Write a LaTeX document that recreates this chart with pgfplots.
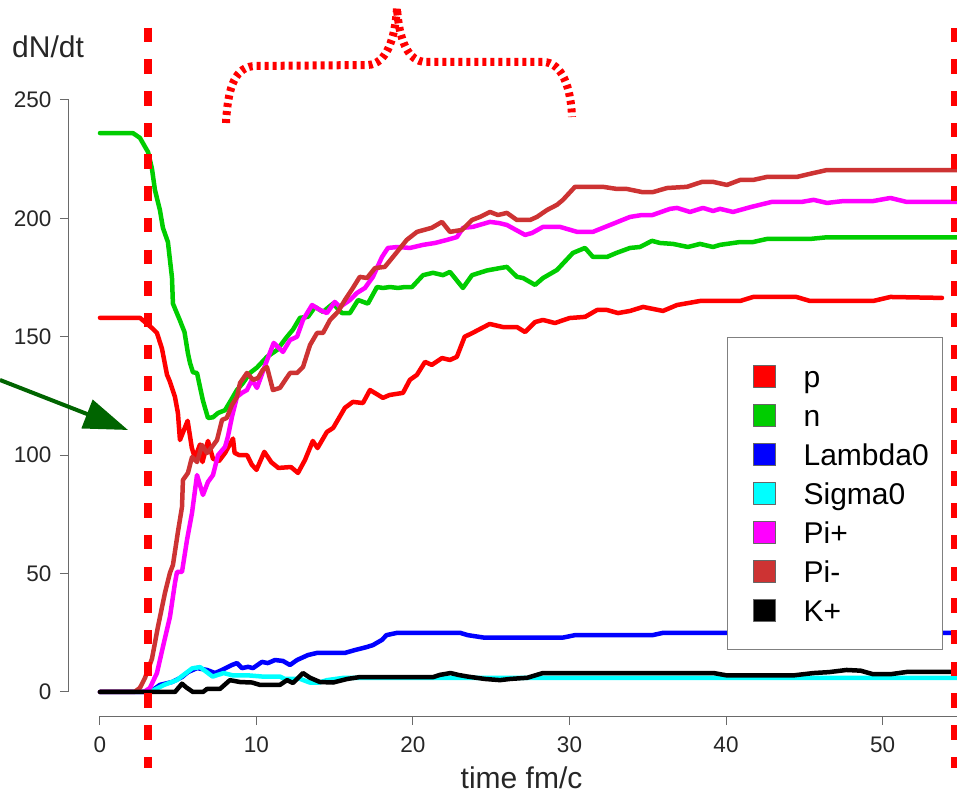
\documentclass[border=0pt]{standalone}
\usepackage{pgfplots}
\pgfplotsset{compat=1.18}
\usepackage{fontspec}
\setmainfont{Liberation Sans}
\usetikzlibrary{arrows.meta}
\definecolor{pRed}{HTML}{FF0000}
\definecolor{nGreen}{HTML}{00CD00}
\definecolor{lBlue}{HTML}{0000FF}
\definecolor{sCyan}{HTML}{00FFFF}
\definecolor{piP}{HTML}{FF00FF}
\definecolor{piM}{HTML}{CD3333}
\definecolor{arrowGreen}{HTML}{006400}
\definecolor{axGray}{HTML}{6A6A6A}
\begin{document}
\begin{tikzpicture}
\begin{axis}[
  at={(0,0)}, anchor=south west, scale only axis,
  width=888pt, height=716pt,
  xmin=-1.98, xmax=54.76, ymin=-10.14, ymax=292.2,
  clip=false,
  axis x line*=bottom, axis y line*=left,
  axis line style={draw=none},
  tick align=outside, major tick length=9pt,
  tick style={axGray, line width=1pt},
  xtick={0,10,20,30,40,50}, ytick={0,50,100,150,200,250},
  /pgf/number format/assume math mode=true,
  ticklabel style={font=\fontsize{22.5}{26}\selectfont, text=black!85},
  xticklabel style={yshift=-8pt},
  yticklabel style={xshift=-5pt},
  xlabel={time fm/c},
  xlabel style={at={(axis description cs:0.5096,-0.1006)}, anchor=base, font=\fontsize{30}{36}\selectfont, inner sep=0pt, text=black!85},
  ylabel={dN/dt},
  ylabel style={at={(axis description cs:-0.0642,0.919)}, anchor=base west, rotate=-90, font=\fontsize{30}{36}\selectfont, inner sep=0pt, text=black!85},
  every axis plot/.append style={line width=4.5pt, line join=round, line cap=round},
  legend cell align=left,
  legend image code/.code={%
    \path[draw=none, fill=none] (0pt,0pt) -- (76pt,0pt);
    \filldraw[#1, draw=black!60, line width=1pt, solid] (26pt,-11pt) rectangle (48pt,11pt);},
  legend style={at={(0.741,0.5293)}, anchor=north west, draw=black!50, line width=1.2pt,
    fill=white, inner xsep=0pt, inner ysep=19.5pt, row sep=0pt,
    font=\fontsize{30}{36}\selectfont,
    nodes={inner sep=0pt, text height=30pt, text depth=9pt}},
]
% p
\addplot[color=pRed] coordinates {
(0,158) (2.55,158) (3.32,153.7) (3.64,151.6) (3.96,145) (4.28,134) (4.47,131) (4.79,124.6)
(4.98,117.8) (5.11,106.4) (5.6,114.5) (5.87,103) (6.07,98.8) (6.39,104.5) (6.55,97.1)
(6.9,106) (7.22,98.5) (7.6,97.5) (8.0,101) (8.5,107) (8.6,101) (8.9,100) (9.4,100)
(9.7,96) (10.0,93.8) (10.5,101.4) (10.95,97) (11.4,94.6) (12.2,95) (12.65,92.5)
(13.1,98) (13.6,106) (13.9,103) (14.5,109.8) (14.9,111.5) (15.65,120) (16.16,122.5)
(16.8,122) (17.25,127.5) (18.08,124.2) (18.5,125.4) (19.36,126.3) (19.8,131.8)
(20.25,133.9) (20.77,139.4) (21.2,138.1) (21.85,141) (22.36,140.2) (22.8,141.5)
(23.3,150) (23.8,151.6) (24.9,155.4) (25.75,154.1) (26.64,154.1) (27.16,152)
(27.8,156.2) (28.3,157.1) (29.07,155.8) (30.0,157.9) (31.0,158.4) (31.76,161.3)
(32.4,161.3) (33.1,160) (33.87,160.9) (34.7,162.6) (35.97,160.9) (36.87,163.4)
(38.34,165.1) (40.9,165.1) (41.73,166.8) (44.5,166.8) (45.37,165.1) (49.4,165.1)
(50.5,166.8) (53.8,166.4)
};
\addlegendentry{p}
% n
\addplot[color=nGreen] coordinates {
(0,236) (2.1,236) (2.55,234) (3.07,228) (3.32,221) (3.51,212) (3.83,203.5) (4.02,196)
(4.34,190) (4.6,175) (4.66,164) (5.1,157) (5.4,152) (5.62,143) (5.75,139) (5.94,135)
(6.2,134.7) (6.39,128.8) (6.58,123) (6.9,115.7) (7.22,116) (7.54,117.8) (7.99,119)
(8.31,122.5) (8.75,127.5) (9.14,130.5) (9.58,134.7) (10.03,137) (10.67,141.5)
(11.31,144.4) (11.95,150) (12.33,153) (12.78,158) (13.29,158.4) (13.74,162.6)
(14.25,160.5) (14.89,164) (15.46,160) (15.97,160) (16.49,165.5) (17.12,164)
(17.7,171) (18.08,170.6) (18.53,171) (19.04,170.6) (19.49,171) (19.94,171)
(20.64,176) (21.28,177) (21.92,176) (22.36,177.4) (23.19,170.6) (23.77,176)
(24.73,178) (25.56,179) (26.0,179.5) (26.64,175.3) (27.03,174.8) (27.8,171.9)
(28.31,174.8) (29.2,178.2) (30.22,185.4) (30.99,187.5) (31.5,183.7) (32.4,183.7)
(33.0,185.4) (33.87,187.5) (34.5,187.9) (35.27,190.5) (35.78,189.6) (36.61,189.2)
(37.57,187.9) (38.34,189.2) (39.17,187.9) (39.62,188.8) (40.9,190) (41.73,190)
(42.62,191.3) (45.37,191.3) (46.45,192) (54.76,192)
};
\addlegendentry{n}
% Lambda0
\addplot[color=lBlue] coordinates {
(0,0) (3.2,0) (3.83,3) (4.6,4.2) (5.24,6.3) (5.62,8.4) (6.2,10.1) (6.84,9.3) (7.35,8)
(7.8,9.3) (8.43,11.4) (8.75,12.2) (9.07,10.1) (9.46,10.6) (9.78,10.1) (10.35,12.7)
(10.73,12.2) (11.18,13.5) (11.69,13.1) (12.14,11.4) (12.59,13.5) (13.29,15.6)
(13.87,16.5) (15.65,16.5) (16.29,17.7) (17.06,19) (17.44,19.8) (18.02,22) (18.3,24)
(19,25) (23,25) (23.5,24) (24.5,23) (29.6,23) (30.35,24) (35.3,24) (36,25) (54.76,25)
};
\addlegendentry{Lambda0\hspace*{14pt}}
% Sigma0
\addplot[color=sCyan] coordinates {
(0,0) (3.2,0) (4.1,3) (4.9,5) (5.5,8) (5.9,10) (6.4,10.5) (6.8,8.5) (7.2,6.5) (7.9,8)
(8.5,7) (9.5,7) (10.4,6.5) (11.5,6.5) (11.8,5.5) (12.8,5.5) (13.4,4) (14.0,4) (14.5,5)
(15.6,6) (54.76,6)
};
\addlegendentry{Sigma0}
% Pi+
\addplot[color=piP] coordinates {
(0,0) (2.8,0) (3.19,1.7) (3.64,8) (4.02,19) (4.47,31.7) (4.79,46) (4.92,50.7) (5.24,50.7)
(5.56,64.2) (5.88,75.6) (6.2,91.6) (6.58,83.2) (6.9,88.7) (7.22,91.6) (7.54,100)
(7.99,103.5) (8.17,107.7) (8.43,116.1) (8.75,124.6) (9.07,126.3) (9.39,127.5)
(9.71,131.8) (10.03,128.4) (10.61,139) (11.1,147.4) (11.69,143.6) (12.14,148.6)
(12.59,150) (12.97,157.1) (13.55,163.4) (14.06,161.3) (14.5,160) (15.0,164.7)
(15.34,162.6) (15.97,165.5) (16.42,168.5) (16.93,170.6) (17.44,175.3) (18.02,183.7)
(18.4,187.5) (19.04,187.9) (19.81,187.5) (20.64,188.8) (21.41,189.6) (22.17,190.9)
(22.81,192.1) (23.2,196) (23.83,196.4) (24.92,198.5) (25.5,198) (26.0,197.2)
(27.16,193) (27.6,193.8) (28.31,196.4) (29.39,196.4) (30.48,194.3) (31.5,194.3)
(32.59,197.2) (33.87,200.6) (34.63,201.4) (35.3,201.4) (36.42,204) (36.87,204.4)
(37.7,202.7) (38.53,204.4) (39.17,203.1) (39.62,204) (40.45,202.7) (41.6,204.8)
(42.9,206.9) (44.8,206.9) (45.6,207.8) (46.45,206.5) (47.5,207.3) (49.4,207.3)
(50.5,208.6) (51.5,207) (54.76,207)
};
\addlegendentry{Pi+}
% Pi-
\addplot[color=piM] coordinates {
(0,0) (2.2,0) (2.55,1.7) (2.88,6) (3.32,14) (3.7,27.4) (4.15,41.8) (4.47,50.3)
(4.66,53.6) (4.98,67.6) (5.24,78.1) (5.3,89.5) (5.62,92.5) (5.88,99.2) (6.2,97.1)
(6.52,104.3) (6.84,100.9) (7.16,103.5) (7.48,106.4) (7.8,114.9) (8.1,115.7)
(8.43,121.2) (8.75,124.6) (8.95,130.5) (9.39,134.7) (9.78,131.8) (10.1,132.6)
(10.4,136) (10.67,137.2) (11.05,127.5) (11.5,128.4) (12.14,134.7) (12.59,134.7)
(12.97,137.2) (13.42,146.5) (13.87,151.6) (14.25,151.6) (14.7,157.1) (15.2,160.5)
(15.65,165.5) (16.16,170.6) (16.6,175.3) (17.06,174.8) (17.57,179) (18.2,179.5)
(18.98,185.8) (19.6,190.9) (20.26,194.3) (21.2,196) (21.85,198.5) (22.36,194.3)
(23.13,195.1) (23.77,199.3) (24.28,200.6) (24.92,202.7) (25.43,201.4) (26.0,202.3)
(26.64,199.3) (27.48,199.3) (27.92,200.6) (28.56,203.5) (29.2,205.7) (29.58,207.8)
(30.35,213.3) (32.14,213.3) (33.04,212.4) (33.67,212.4) (34.63,211.1) (35.34,211.1)
(36.23,212.8) (37.5,213.3) (38.47,215.4) (39.17,215.4) (40.06,214.1) (40.9,216.2)
(41.73,216.2) (42.62,217.5) (44.54,217.5) (45.37,218.8) (46.45,220.4) (54.76,220.4)
};
\addlegendentry{Pi-}
% K+
\addplot[color=black] coordinates {
(0,0) (4.79,0) (5.24,3.5) (5.5,2) (5.94,0) (6.58,0) (6.84,1.3) (7.67,1.3) (8.3,5)
(8.95,4.2) (9.71,4) (10.22,3) (11.5,3) (11.95,5) (12.33,3.8) (12.97,8) (13.42,6)
(14.06,4.2) (14.9,4) (15.8,5.5) (16.6,6.3) (21.3,6.3) (21.7,7.2) (22.4,8) (22.9,7.2)
(23.5,6.5) (24.6,5.5) (25.56,5) (26.2,5.5) (27.3,6) (28.3,8) (39.2,8) (40.06,7)
(44.3,7) (45.6,8) (46.6,8.4) (47.7,9.3) (48.6,9) (49.4,7.5) (50.5,7.5) (51.6,8.5)
(54.76,8.5)
};
\addlegendentry{K+}
% R-style axis lines
\draw[axGray, line width=1pt] (axis cs:-1.98,0) -- (axis cs:-1.98,250);
\draw[axGray, line width=1pt] (axis cs:0,-10.14) -- (axis cs:54.76,-10.14);
\end{axis}
\begin{scope}[x=1pt,y=-1pt,shift={(-69pt,716pt)}]
  % vertical dashed markers
  \draw[pRed, line width=8pt, dash pattern=on 14.5pt off 17.2pt] (148,27.7) -- (148,768);
  \draw[pRed, line width=8pt, dash pattern=on 14.5pt off 17.2pt] (954.5,27.7) -- (954.5,768);
  % dotted brace
  \draw[pRed, line width=8pt, dash pattern=on 4pt off 4pt]
    (226,123) .. controls (228,85) and (236,66) .. (256,66) -- (368,65)
    .. controls (386,64) and (395,40) .. (397,8)
    .. controls (399,40) and (408,62) .. (426,62) -- (543,62)
    .. controls (562,62) and (571,88) .. (572,117);
  % arrow
  \draw[arrowGreen, line width=4pt, -{Triangle[length=44pt,width=30pt]}] (0,380) -- (128,430);
\end{scope}
\pgfresetboundingbox
\path[use as bounding box] (-69pt,-78pt) rectangle (888pt,716pt);
\end{tikzpicture}
\end{document}
